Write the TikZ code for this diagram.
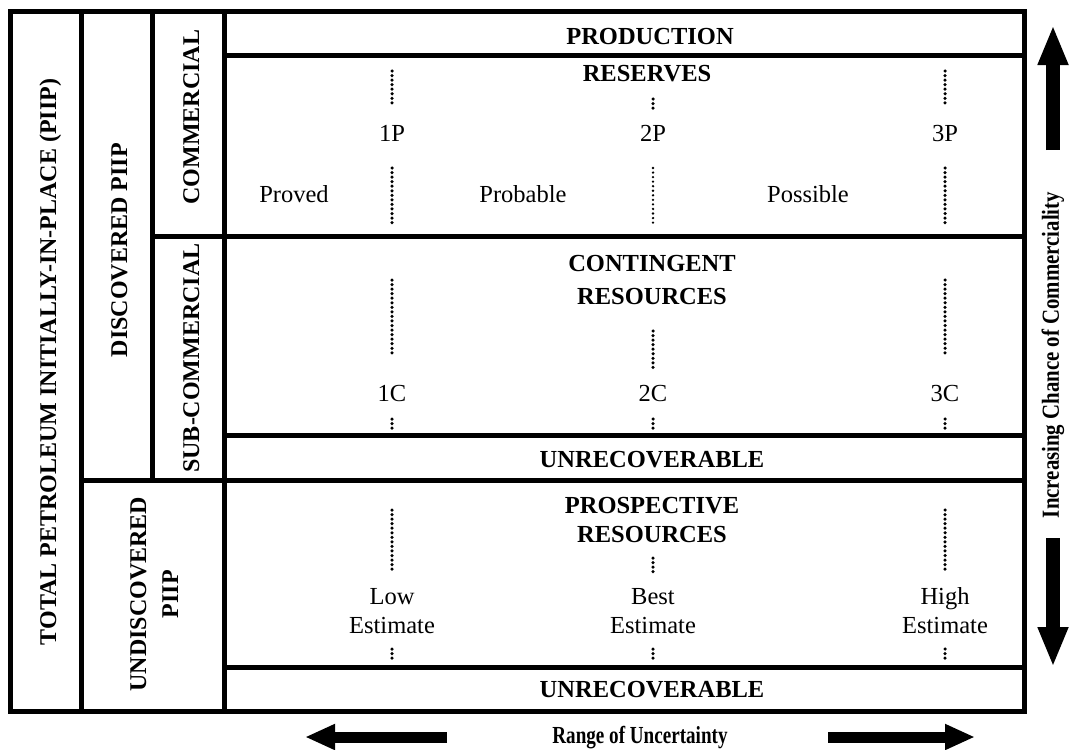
\documentclass[tikz,border=0pt]{standalone}
\usepackage{fontspec}
\setmainfont{Liberation Serif}
\usetikzlibrary{arrows.meta}
\begin{document}
\begin{tikzpicture}[x=1pt,y=-1pt,
  frame/.style={line width=5pt, line join=miter},
  dotv/.style={line width=3.5pt, line cap=round, dash pattern=on 0pt off 4.55pt},
  dotthin/.style={line width=2.6pt, line cap=round, dash pattern=on 0pt off 4.55pt},
  hd/.style={font=\fontsize{24.5}{30}\selectfont\bfseries, anchor=base, inner sep=0pt},
  tx/.style={font=\fontsize{24.5}{30}\selectfont, anchor=base, inner sep=0pt},
  vt/.style={font=\fontsize{24}{30}\selectfont\bfseries, rotate=90, anchor=base, inner sep=0pt},
  cond/.style={font=\fontsize{24.5}{30}\selectfont\bfseries, inner sep=0pt},
  vfat/.style={line width=14pt, -{Triangle[length=40pt, width=28pt]}},
  hfat/.style={line width=11pt, -{Triangle[length=30pt, width=24pt]}},
]
\useasboundingbox (0,0) rectangle (1069,750);
% frame
\draw[frame] (10,11) rectangle (1024,711);
\draw[frame] (81,11) -- (81,711);
\draw[frame] (152,11) -- (152,480);
\draw[frame] (224,11) -- (224,711);
\draw[frame] (224,55) -- (1024,55);
\draw[frame] (152,236) -- (1024,236);
\draw[frame] (224,435) -- (1024,435);
\draw[frame] (81,480) -- (1024,480);
\draw[frame] (224,667) -- (1024,667);

% left column texts
\node[vt] (piip) at (56,362) {TOTAL PETROLEUM INITIALLY-IN-PLACE (PIIP)};
\node[vt] (disc) at (127,250) {DISCOVERED PIIP};
\node[vt] (comm) at (199,117) {COMMERCIAL};
\node[vt] (subc) at (199,358) {SUB-COMMERCIAL};
\node[vt] (undisc) at (146,594) {UNDISCOVERED};
\node[vt] (undpiip) at (178,594) {PIIP};

% headings
\node[hd] (prod) at (650,44) {PRODUCTION};
\node[hd] (res) at (647,81) {RESERVES};
\node[hd] (cont) at (652,271) {CONTINGENT};
\node[hd] (contres) at (652,304) {RESOURCES};
\node[hd] (unrec1) at (652,467) {UNRECOVERABLE};
\node[hd] (prosp) at (652,513) {PROSPECTIVE};
\node[hd] (prospres) at (652,542) {RESOURCES};
\node[hd] (unrec2) at (652,697) {UNRECOVERABLE};

% reserves
\node[tx] (p1) at (392,141) {1P};
\node[tx] (p2) at (653,141) {2P};
\node[tx] (p3) at (945,141) {3P};
\node[tx] (proved) at (294,202) {Proved};
\node[tx] (probable) at (523,202) {Probable};
\node[tx] (possible) at (808,202) {Possible};
\draw[dotv] (392,71) -- (392,107);
\draw[dotv] (392,168) -- (392,227);
\draw[dotv] (653,99) -- (653,110);
\draw[dotthin] (653,168) -- (653,227);
\draw[dotv] (945,71) -- (945,107);
\draw[dotv] (945,168) -- (945,227);

% contingent
\node[tx] (c1) at (392,401) {1C};
\node[tx] (c2) at (653,401) {2C};
\node[tx] (c3) at (945,401) {3C};
\draw[dotv] (392,280) -- (392,353);
\draw[dotv] (653,331) -- (653,370);
\draw[dotv] (945,280) -- (945,353);
\draw[dotv] (392,419) -- (392,432);
\draw[dotv] (653,419) -- (653,432);
\draw[dotv] (945,419) -- (945,432);

% prospective
\node[tx] (low) at (392,604) {Low};
\node[tx] (lowe) at (392,633) {Estimate};
\node[tx] (best) at (653,604) {Best};
\node[tx] (beste) at (653,633) {Estimate};
\node[tx] (high) at (945,604) {High};
\node[tx] (highe) at (945,633) {Estimate};
\draw[dotv] (392,510) -- (392,570);
\draw[dotv] (653,558) -- (653,572);
\draw[dotv] (945,510) -- (945,570);
\draw[dotv] (392,649) -- (392,662);
\draw[dotv] (653,649) -- (653,662);
\draw[dotv] (945,649) -- (945,662);

% right arrows
\node[cond, rotate=90] (chance) at (1053,355) {\scalebox{0.85}[1]{Increasing Chance of Commerciality}};
\coordinate (upbot) at (1053,150);
\coordinate (uptop) at (1053,25);
\coordinate (dntop) at (1053,538);
\coordinate (dnbot) at (1053,667);
\draw[vfat] (upbot) -- (uptop);
\draw[vfat] (dntop) -- (dnbot);

% bottom arrows
\node[cond] (range) at (640,738) {\scalebox{0.78}[1]{Range of Uncertainty}};
\coordinate (lt) at (447,737);
\coordinate (ltip) at (305,737);
\coordinate (rt) at (828,737);
\coordinate (rtip) at (975,737);
\draw[hfat] (lt) -- (ltip);
\draw[hfat] (rt) -- (rtip);
\end{tikzpicture}
\end{document}
